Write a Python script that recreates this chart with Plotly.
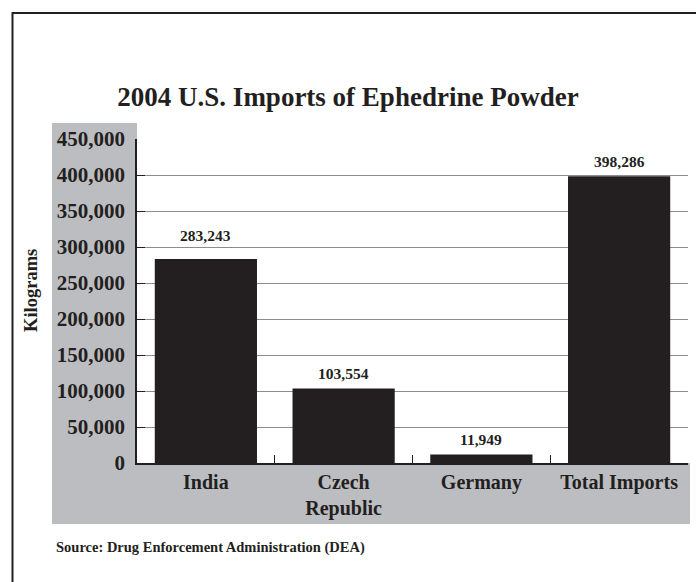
import plotly.graph_objects as go

# ---- data ----
categories = ["India", "Czech<br>Republic", "Germany", "Total Imports"]
values = [283243, 103554, 11949, 398286]
value_labels = ["283,243", "103,554", "11,949", "398,286"]
y_tickvals = [0, 50000, 100000, 150000, 200000, 250000, 300000, 350000, 400000, 450000]

# ---- styling ----
W, H = 696, 582
L, R, T, B = 137, 688, 139, 463
DARK = "#231f20"
GRAY = "#bcbdc0"
GRID = "#8c8c8c"
FONT = "Liberation Serif"
label_yshift = [13, 4, 4, 4]


def px(x):
    return (x - L) / (R - L)


def py(y):
    return (B - y) / (B - T)


fig = go.Figure()
fig.add_trace(go.Bar(
    x=categories, y=values,
    marker=dict(color=DARK, line=dict(width=0)),
    width=0.742, hoverinfo="skip",
))

for c, v, t, s in zip(categories, values, value_labels, label_yshift):
    fig.add_annotation(x=c, y=v, text=t, showarrow=False, yanchor="bottom",
                       yshift=s, font=dict(family=FONT, size=15.5, color=DARK, weight="bold"))

# axis title
fig.add_annotation(xref="paper", yref="paper", x=px(31), y=py(291), text="Kilograms",
                   textangle=-90, showarrow=False, xanchor="center", yanchor="middle",
                   font=dict(family=FONT, size=18.5, color=DARK, weight="bold"))
# source
fig.add_annotation(xref="paper", yref="paper", x=px(54), y=py(547), text="Source: Drug Enforcement Administration (DEA)",
                   showarrow=False, xanchor="left", yanchor="middle",
                   font=dict(family=FONT, size=14.5, color=DARK, weight="bold"))

shapes = [
    dict(type="rect", xref="paper", yref="paper", x0=px(52), x1=px(L), y0=py(524), y1=py(123),
         fillcolor=GRAY, line=dict(width=0), layer="below"),
    dict(type="rect", xref="paper", yref="paper", x0=px(L), x1=px(690), y0=py(524), y1=py(B),
         fillcolor=GRAY, line=dict(width=0), layer="below"),
    dict(type="rect", xref="paper", yref="paper", x0=px(12.5), x1=px(740), y0=py(640), y1=py(13),
         fillcolor="rgba(0,0,0,0)", line=dict(width=2, color=DARK), layer="above"),
]

fig.update_layout(
    width=W, height=H,
    margin=dict(l=L, r=W - R, t=T, b=H - B, pad=0),
    paper_bgcolor="white", plot_bgcolor="white",
    showlegend=False,
    shapes=shapes,
    title=dict(text="2004 U.S. Imports of Ephedrine Powder", x=348 / W, xref="container", xanchor="center",
               y=1 - 97 / H, yref="container", yanchor="middle",
               font=dict(family=FONT, size=27, color=DARK, weight="bold")),
    xaxis=dict(type="category", range=[-0.5, 3.5], tickson="boundaries", ticks="inside", ticklen=8,
               tickcolor=DARK, tickwidth=1.2, showline=True, linecolor=DARK, linewidth=1.5,
               showgrid=False, zeroline=False, fixedrange=True,
               tickfont=dict(family=FONT, size=20, color=DARK, weight="bold")),
    yaxis=dict(range=[0, 450000], tickvals=y_tickvals, tickformat=",d", ticks="inside", ticklen=8,
               tickcolor=DARK, tickwidth=1.2, showline=True, linecolor=DARK, linewidth=1.5,
               showgrid=True, gridcolor=GRID, gridwidth=1, zeroline=False, fixedrange=True,
               ticklabelstandoff=6,
               tickfont=dict(family=FONT, size=21, color=DARK, weight="bold")),
)

fig.write_html("out.html", config={"displayModeBar": False})
